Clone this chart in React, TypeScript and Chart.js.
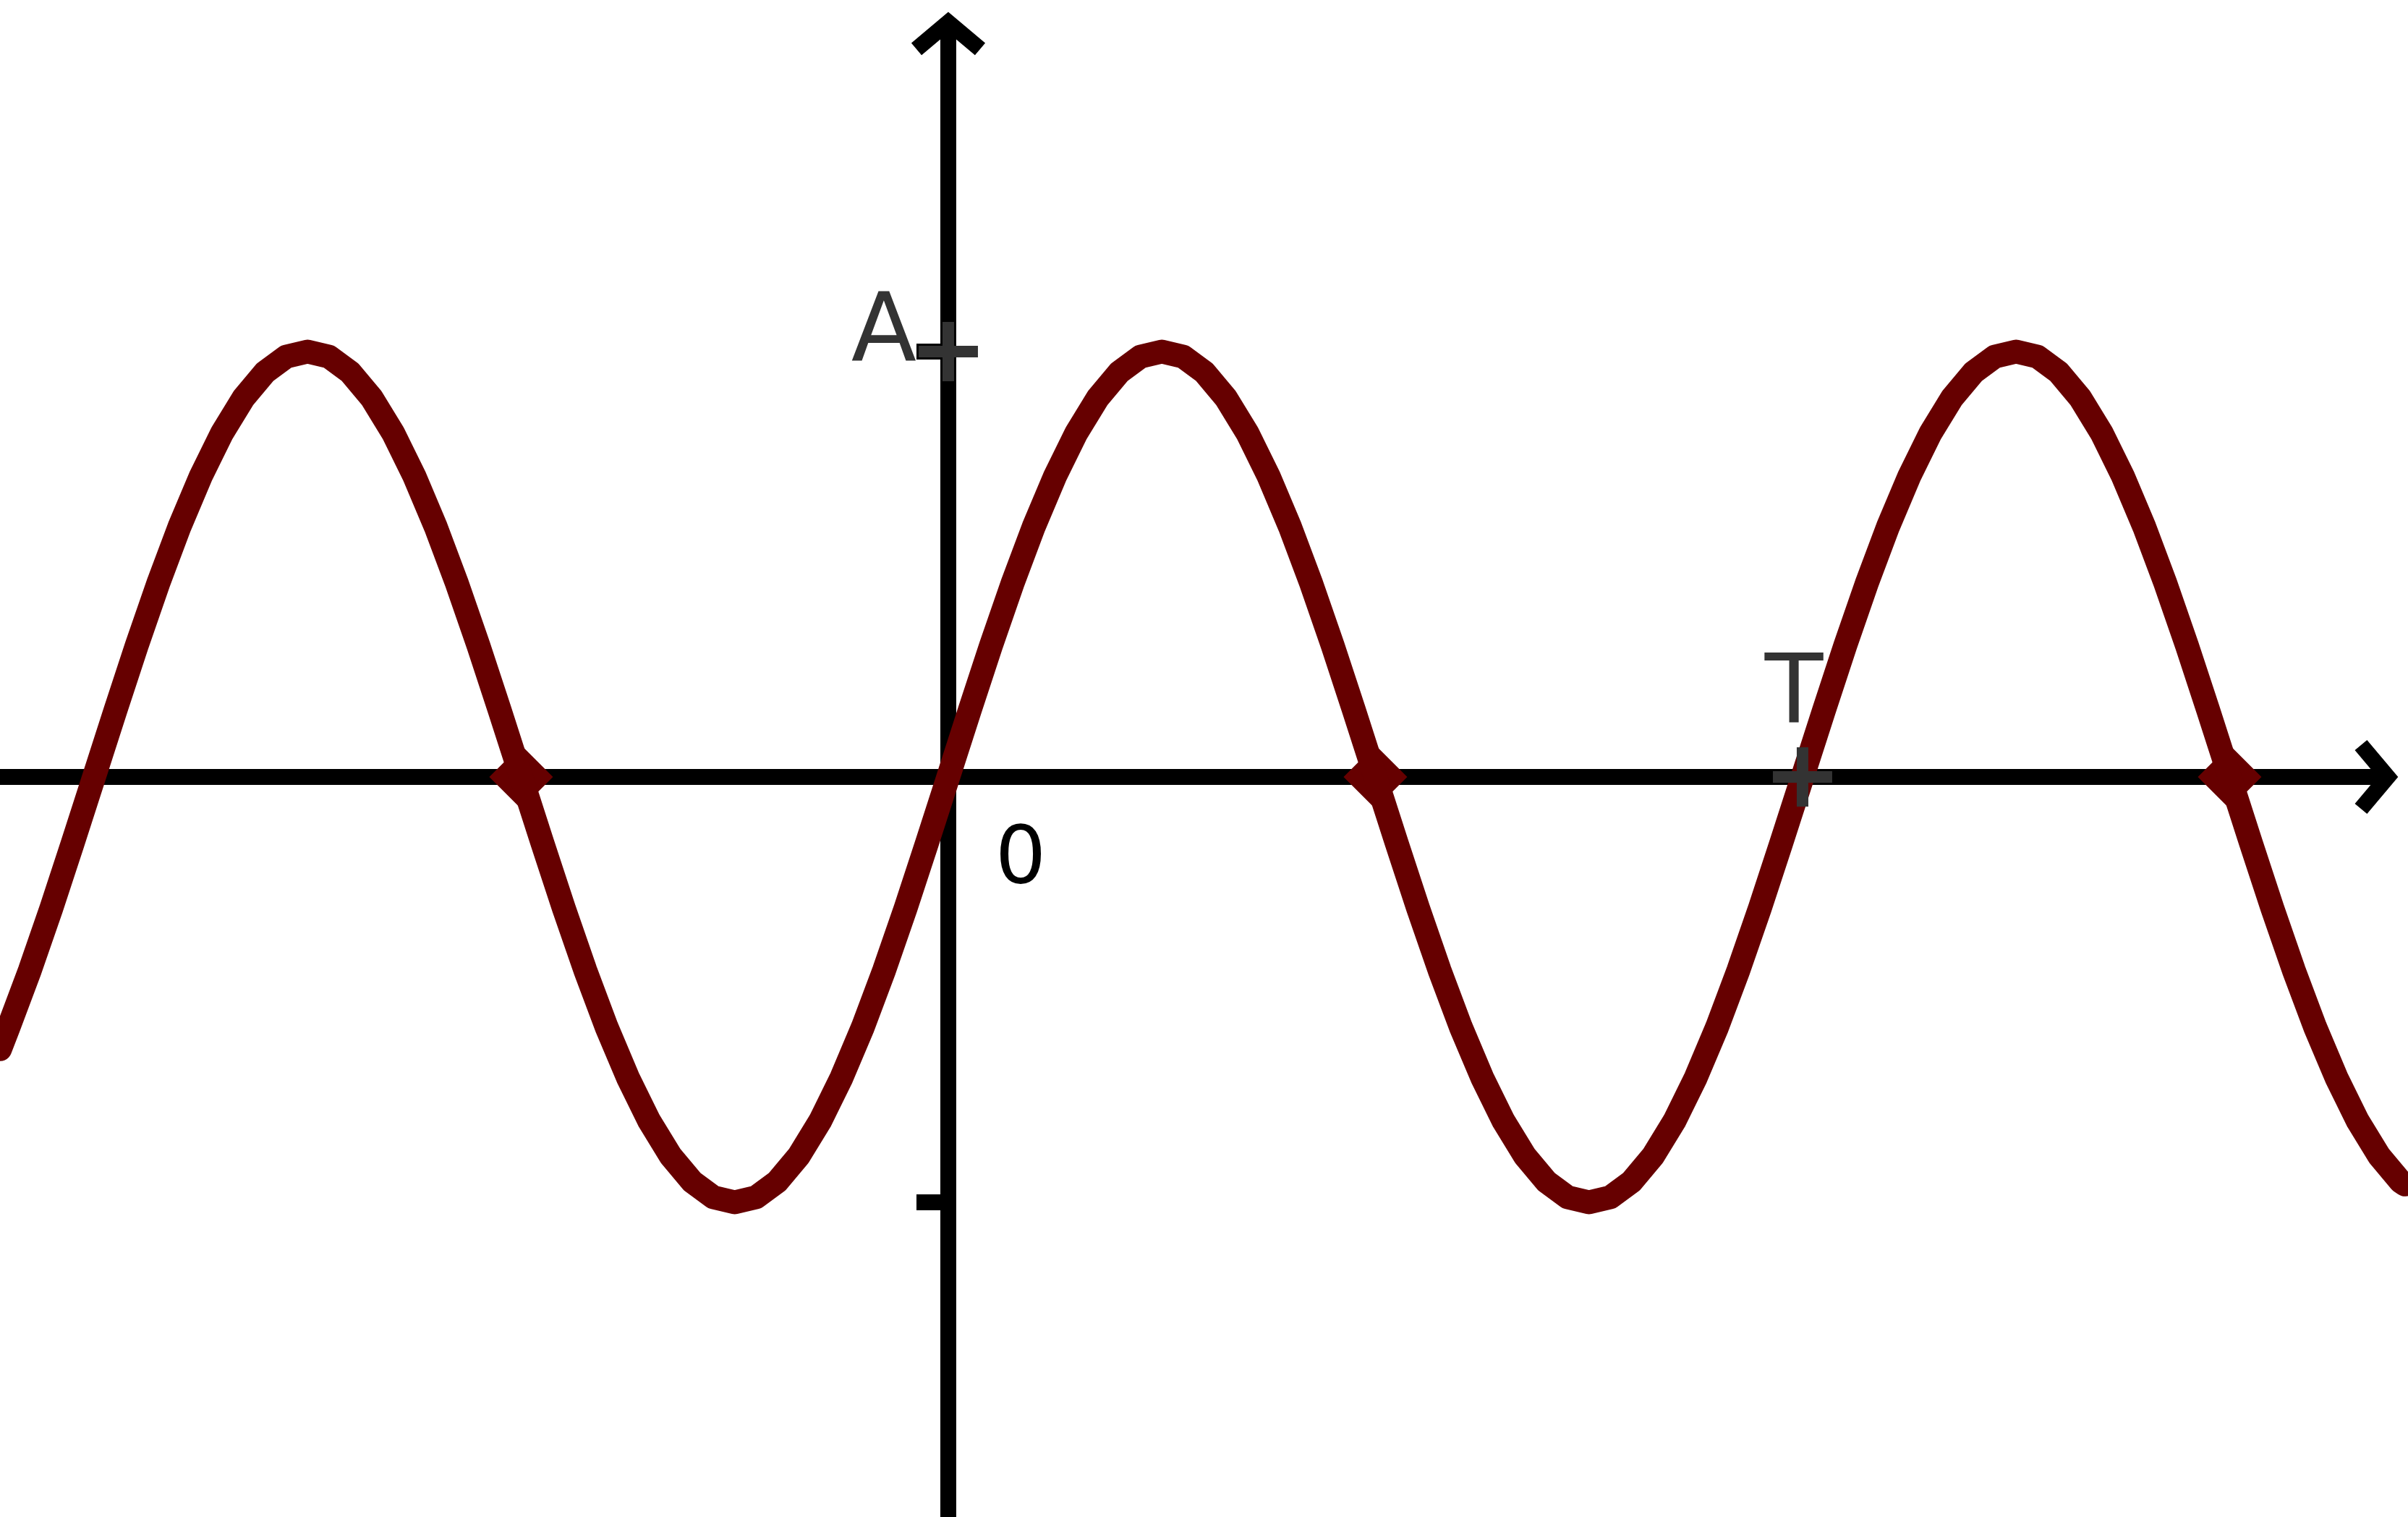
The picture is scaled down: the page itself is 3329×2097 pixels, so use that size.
import { useEffect, useRef } from "react";
import { Chart, registerables } from "chart.js";

Chart.register(...registerables);

const W = 3329;
const H = 2097;

// Visible window of the (equal-unit) axes
const xMin = -2.2201;
const xMax = 3.4175;
const yMin = -1.7398;
const yMax = 1.8265;

// Sine wave samples (x in units where T = 2, y in units of A)
const curveX = [
  -2.22, -2.2, -2.15, -2.1, -2.05,
  -2.0, -1.95, -1.9, -1.85, -1.8, -1.75, -1.7, -1.65, -1.6, -1.55,
  -1.5, -1.45, -1.4, -1.35, -1.3, -1.25, -1.2, -1.15, -1.1, -1.05,
  -1.0, -0.95, -0.9, -0.85, -0.8, -0.75, -0.7, -0.65, -0.6, -0.55,
  -0.5, -0.45, -0.4, -0.35, -0.3, -0.25, -0.2, -0.15, -0.1, -0.05,
  0.0, 0.05, 0.1, 0.15, 0.2, 0.25, 0.3, 0.35, 0.4, 0.45,
  0.5, 0.55, 0.6, 0.65, 0.7, 0.75, 0.8, 0.85, 0.9, 0.95,
  1.0, 1.05, 1.1, 1.15, 1.2, 1.25, 1.3, 1.35, 1.4, 1.45,
  1.5, 1.55, 1.6, 1.65, 1.7, 1.75, 1.8, 1.85, 1.9, 1.95,
  2.0, 2.05, 2.1, 2.15, 2.2, 2.25, 2.3, 2.35, 2.4, 2.45,
  2.5, 2.55, 2.6, 2.65, 2.7, 2.75, 2.8, 2.85, 2.9, 2.95,
  3.0, 3.05, 3.1, 3.15, 3.2, 3.25, 3.3, 3.35, 3.4, 3.41,
];
const curveY = [
  -0.64, -0.588, -0.454, -0.309, -0.156,
  0, 0.156, 0.309, 0.454, 0.588, 0.707, 0.809, 0.891, 0.951, 0.988,
  1, 0.988, 0.951, 0.891, 0.809, 0.707, 0.588, 0.454, 0.309, 0.156,
  0, -0.156, -0.309, -0.454, -0.588, -0.707, -0.809, -0.891, -0.951, -0.988,
  -1, -0.988, -0.951, -0.891, -0.809, -0.707, -0.588, -0.454, -0.309, -0.156,
  0, 0.156, 0.309, 0.454, 0.588, 0.707, 0.809, 0.891, 0.951, 0.988,
  1, 0.988, 0.951, 0.891, 0.809, 0.707, 0.588, 0.454, 0.309, 0.156,
  0, -0.156, -0.309, -0.454, -0.588, -0.707, -0.809, -0.891, -0.951, -0.988,
  -1, -0.988, -0.951, -0.891, -0.809, -0.707, -0.588, -0.454, -0.309, -0.156,
  0, 0.156, 0.309, 0.454, 0.588, 0.707, 0.809, 0.891, 0.951, 0.988,
  1, 0.988, 0.951, 0.891, 0.809, 0.707, 0.588, 0.454, 0.309, 0.156,
  0, -0.156, -0.309, -0.454, -0.588, -0.707, -0.809, -0.891, -0.951, -0.958,
];

// Diamond markers on the downward zero crossings
const diamondX = [-1, 1, 3];
const diamondY = [0, 0, 0];

// Grey "+" tick markers (A on the y axis, T on the x axis)
const crossX = [0, 2];
const crossY = [1, 0];

// Black tick values on the y axis
const yTickValues = [1, -1];

// Text labels
const labelA = "A";
const labelT = "T";
const labelZero = "0";

// Axis geometry (data units)
const xAxisTip = 3.37;
const yAxisTip = 1.774;
const arrowBackX = 37 / 590.5;
const arrowBackY = 37 / 588;
const arrowHalfX = 44 / 590.5;
const arrowHalfY = 44 / 588;
const tickLen = 0.0745;

const AXIS_COLOR = "#000000";
const AXIS_W = 22;
const CURVE_COLOR = "#660000";
const GREY = "#333333";

function seg(points: { x: number; y: number }[], extra: any = {}) {
  return {
    data: points,
    borderColor: AXIS_COLOR,
    borderWidth: AXIS_W,
    borderCapStyle: "butt",
    borderJoinStyle: "miter",
    pointRadius: 0,
    tension: 0,
    fill: false,
    clip: false,
    order: 5,
    ...extra,
  };
}

const labelPlugin = {
  id: "sineLabels",
  afterDatasetsDraw(chart: any) {
    const { ctx } = chart;
    const xs = chart.scales.x;
    const ys = chart.scales.y;
    ctx.save();
    ctx.textBaseline = "alphabetic";
    ctx.font = '132px "DejaVu Sans"';
    ctx.fillStyle = GREY;
    ctx.textAlign = "right";
    ctx.fillText(labelA, xs.getPixelForValue(crossX[0]) - 44, ys.getPixelForValue(crossY[0]) + 13);
    ctx.textAlign = "center";
    ctx.fillText(labelT, xs.getPixelForValue(crossX[1]) - 12, ys.getPixelForValue(crossY[1]) - 76);
    ctx.font = '111px "DejaVu Sans"';
    ctx.fillStyle = "#000000";
    ctx.fillText(labelZero, xs.getPixelForValue(0) + 100, ys.getPixelForValue(0) + 146);
    ctx.restore();
  },
};

export default function App() {
  const ref = useRef<HTMLCanvasElement>(null);

  useEffect(() => {
    const curve = curveX.map((x, i) => ({ x, y: curveY[i] }));
    const diamonds = diamondX.map((x, i) => ({ x, y: diamondY[i] }));
    const crosses = crossX.map((x, i) => ({ x, y: crossY[i] }));

    const datasets: any[] = [
      {
        data: crosses,
        showLine: false,
        pointStyle: "cross",
        pointRadius: 41,
        pointBorderWidth: 16,
        pointBorderColor: GREY,
        pointBackgroundColor: GREY,
        clip: false,
        order: 0,
      },
      {
        data: curve,
        borderColor: CURVE_COLOR,
        borderWidth: 33,
        borderCapStyle: "round",
        borderJoinStyle: "round",
        pointRadius: 0,
        tension: 0,
        fill: false,
        clip: false,
        order: 1,
      },
      {
        data: diamonds,
        showLine: false,
        pointStyle: "rectRot",
        pointRadius: 44,
        pointBorderWidth: 0,
        pointBackgroundColor: CURVE_COLOR,
        pointBorderColor: CURVE_COLOR,
        clip: false,
        order: 1,
      },
      // x axis shaft and arrow
      seg([
        { x: xMin - 0.2, y: 0 },
        { x: xAxisTip, y: 0 },
      ]),
      seg([
        { x: xAxisTip - arrowBackX, y: arrowHalfY },
        { x: xAxisTip, y: 0 },
        { x: xAxisTip - arrowBackX, y: -arrowHalfY },
      ]),
      // y axis shaft and arrow
      seg([
        { x: 0, y: yMin - 0.2 },
        { x: 0, y: yAxisTip },
      ]),
      seg([
        { x: -arrowHalfX, y: yAxisTip - arrowBackY },
        { x: 0, y: yAxisTip },
        { x: arrowHalfX, y: yAxisTip - arrowBackY },
      ]),
      // y ticks
      ...yTickValues.map((v) =>
        seg([
          { x: -tickLen, y: v },
          { x: 0, y: v },
        ])
      ),
    ];

    const chart = new Chart(ref.current as HTMLCanvasElement, {
      type: "line",
      data: { datasets },
      options: {
        animation: false,
        responsive: false,
        devicePixelRatio: 1,
        events: [],
        layout: { padding: 0, autoPadding: false },
        scales: {
          x: { type: "linear", min: xMin, max: xMax, display: false },
          y: { type: "linear", min: yMin, max: yMax, display: false },
        },
        plugins: {
          legend: { display: false },
          tooltip: { enabled: false },
        },
      } as any,
      plugins: [labelPlugin],
    } as any);

    return () => chart.destroy();
  }, []);

  return (
    <div
      style={{
        position: "fixed",
        left: 0,
        top: 0,
        width: W + "px",
        height: H + "px",
        background: "#ffffff",
      }}
    >
      <canvas
        ref={ref}
        width={W}
        height={H}
        style={{ display: "block", width: W + "px", height: H + "px" }}
      />
    </div>
  );
}
